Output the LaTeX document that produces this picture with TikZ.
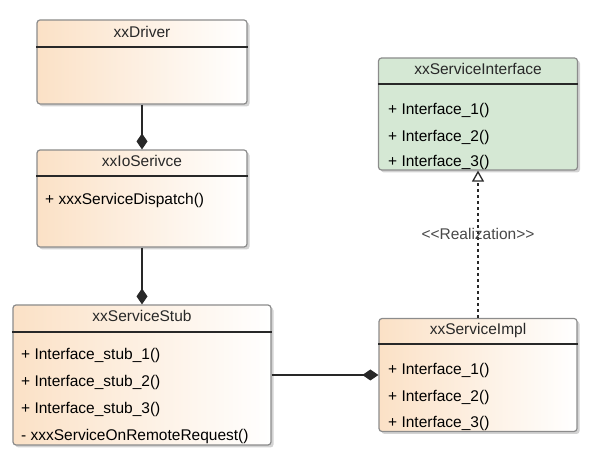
\documentclass[tikz,border=0pt]{standalone}
\usepackage{fontspec}
\setmainfont{Liberation Sans}
\usepackage{tikz}
\usetikzlibrary{shapes}
\usetikzlibrary{arrows.meta}
\usetikzlibrary{shadows}
\usetikzlibrary{positioning}
\definecolor{peach}{RGB}{251,225,198}
\definecolor{mint}{RGB}{213,232,212}
\definecolor{edgegray}{RGB}{140,140,140}
\definecolor{ink}{RGB}{40,40,40}
\tikzstyle{classbox}=[rectangle,rounded corners=3pt,draw=edgegray,line width=1.2pt,inner sep=0mm,drop shadow={shadow xshift=2.5pt,shadow yshift=-2.5pt,opacity=0.35}]
\tikzstyle{peachclass}=[classbox,left color=peach,right color=white]
\tikzstyle{greenclass}=[classbox,fill=mint]
\tikzstyle{title}=[text=ink,inner sep=0mm]
\tikzstyle{member}=[anchor=west,text=black,inner sep=0mm]
\tikzstyle{divider}=[draw=ink,line width=1.2pt]
\tikzstyle{compose}=[draw=ink,line width=1.4pt,-{Diamond[length=16pt,width=11pt]}]
\tikzstyle{realize}=[draw=ink,line width=1.3pt,dash pattern=on 3pt off 3pt,-{Triangle[open,length=11pt,width=12pt,line width=1.3pt]}]
\tikzset{every picture/.style={
    x=1pt,y=-1pt,
    font=\fontsize{15.5}{18}\selectfont
  }
}

\begin{document}
\begin{tikzpicture}
  \useasboundingbox (0,0) rectangle (614,462);
  % classes
  \node[peachclass, minimum width=210pt, minimum height=84pt] at (142,62) (drv) {};
  \node[peachclass, minimum width=210pt, minimum height=97pt] at (142,198.5) (iosvc) {};
  \node[peachclass, minimum width=258pt, minimum height=140pt] at (142,375) (stub) {};
  \node[greenclass, minimum width=199pt, minimum height=112pt] at (478,114) (iface) {};
  \node[peachclass, minimum width=198pt, minimum height=113pt] at (478,375) (impl) {};
  % dividers
  \draw[divider] (drv.west |- 0,47) -- (drv.east |- 0,47);
  \draw[divider] (iosvc.west |- 0,176) -- (iosvc.east |- 0,176);
  \draw[divider] (stub.west |- 0,332) -- (stub.east |- 0,332);
  \draw[divider] (iface.west |- 0,84) -- (iface.east |- 0,84);
  \draw[divider] (impl.west |- 0,344) -- (impl.east |- 0,344);
  % names
  \node[title] at (142,32) (drvname) {xxDriver};
  \node[title] at (142,161) (iosvcname) {xxIoSerivce};
  \node[title] at (142,316) (stubname) {xxServiceStub};
  \node[title] at (478,69) (ifacename) {xxServiceInterface};
  \node[title] at (478,330) (implname) {xxServiceImpl};
  % members
  \node[member] at (45,200) (dispatch) {+ xxxServiceDispatch()};
  \node[member] at (21,355) (stub1) {+ Interface\_stub\_1()};
  \node[member] at (21,382) (stub2) {+ Interface\_stub\_2()};
  \node[member] at (21,409) (stub3) {+ Interface\_stub\_3()};
  \node[member] at (21,436) (remote) {- xxxServiceOnRemoteRequest()};
  \node[member] at (388,110) (iface1) {+ Interface\_1()};
  \node[member] at (388,137) (iface2) {+ Interface\_2()};
  \node[member] at (388,162) (iface3) {+ Interface\_3()};
  \node[member] at (388,370) (impl1) {+ Interface\_1()};
  \node[member] at (388,397) (impl2) {+ Interface\_2()};
  \node[member] at (388,423) (impl3) {+ Interface\_3()};
  % relations
  \draw[compose] (drv) -- (iosvc);
  \draw[compose] (iosvc) -- (stub);
  \draw[compose] (stub) -- (impl);
  \draw[realize] (impl) -- node[pos=0.57, text=ink!85, inner sep=0mm] (reallabel) {<\kern0pt<Realization>\kern0pt>} (iface);
\end{tikzpicture}
\end{document}
